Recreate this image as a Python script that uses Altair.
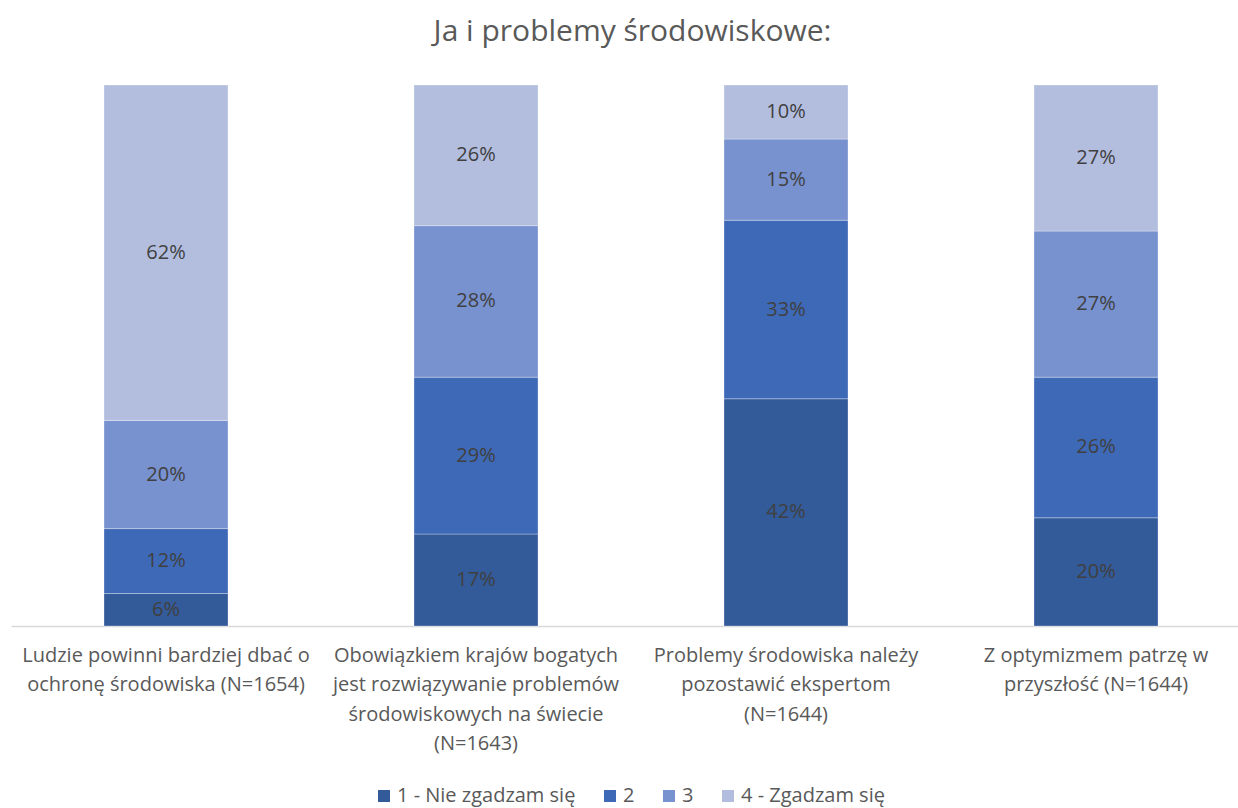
import altair as alt
import pandas as pd

categories = [
    "Ludzie powinni bardziej dbać o|ochronę środowiska (N=1654)",
    "Obowiązkiem krajów bogatych|jest rozwiązywanie problemów|środowiskowych na świecie|(N=1643)",
    "Problemy środowiska należy|pozostawić ekspertom|(N=1644)",
    "Z optymizmem patrzę w|przyszłość (N=1644)",
]
series = ["1 - Nie zgadzam się", "2", "3", "4 - Zgadzam się"]
s1 = [6, 17, 42, 20]
s2 = [12, 29, 33, 26]
s3 = [20, 28, 15, 27]
s4 = [62, 26, 10, 27]
colors = ["#335A99", "#3E69B6", "#7891CF", "#B3BEDF"]

rows = []
for ci, c in enumerate(categories):
    for si, (s, vals) in enumerate(zip(series, [s1, s2, s3, s4])):
        rows.append({"cat": c, "series": s, "order": si, "value": vals[ci]})
df = pd.DataFrame(rows)

xenc = alt.X("cat:N", sort=categories,
             scale=alt.Scale(range=[0, 1240], paddingInner=0, paddingOuter=0),
             axis=alt.Axis(title=None, labelAngle=0, ticks=False,
                           domainColor="#D9D9D9", domainWidth=1.5,
                           labelExpr="split(datum.label, '|')",
                           labelFont="Open Sans", labelFontSize=20,
                           labelColor="#595959", labelLineHeight=29.5,
                           labelPadding=19, labelLimit=1000, labelBaseline="top"))

base = alt.Chart(df).transform_stack(
    stack="value", groupby=["cat"], as_=["v0", "v1"], sort=[alt.SortField("order")]
)

bars = base.mark_bar(size=124, stroke="white", strokeWidth=0.6, strokeOpacity=0.5).encode(
    x=xenc,
    y=alt.Y("v0:Q", scale=alt.Scale(domain=[0, 100], nice=False), axis=None),
    y2="v1:Q",
    color=alt.Color("series:N", sort=series,
                    scale=alt.Scale(domain=series, range=colors),
                    legend=alt.Legend(title=None, orient="none", direction="horizontal",
                                      legendX=363, legendY=701,
                                      symbolType="square", symbolSize=144,
                                      symbolStrokeWidth=0, labelFont="Open Sans",
                                      labelFontSize=20, labelColor="#595959",
                                      labelLimit=500,
                                      columnPadding=24, symbolOffset=0, labelOffset=3)),
)

texts = base.transform_calculate(
    mid="(datum.v0 + datum.v1) / 2",
    lbl="datum.value + '%'",
).mark_text(font="Open Sans", fontSize=20, color="#404040").encode(
    x=alt.X("cat:N", sort=categories),
    y=alt.Y("mid:Q"),
    text="lbl:N",
)

chart = alt.layer(bars, texts).properties(
    width=1227, height=541,
    title=alt.Title("Ja i problemy środowiskowe:", font="Open Sans", fontSize=30,
                    fontWeight="normal", color="#595959", offset=38, dx=8),
    autosize=alt.AutoSizeParams(type="none"),
    padding={"left": 11, "top": 85, "right": 0, "bottom": 182},
).configure_view(stroke=None)

chart.save("out.html", embed_options={"renderer": "svg", "actions": False})
